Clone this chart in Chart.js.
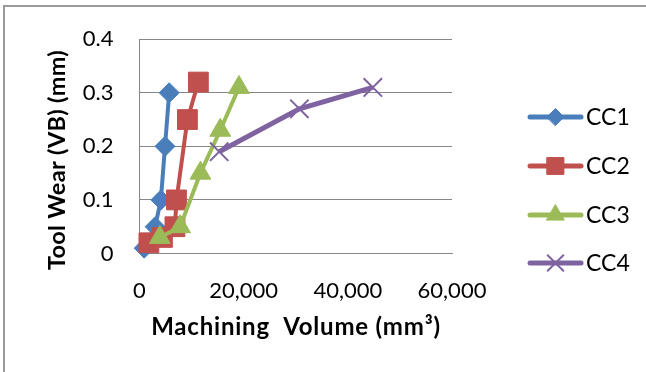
<!DOCTYPE html>
<html>
<head>
<meta charset="utf-8">
<script src="https://cdn.jsdelivr.net/npm/chart.js@4/dist/chart.umd.min.js"></script>
<style>
  html, body { margin: 0; padding: 0; background: #fff; }
  #wrap { position: relative; width: 646px; height: 372px; overflow: hidden; }
  #frame { position: absolute; left: 3px; top: 5px; width: 700px; height: 400px;
           border-left: 2px solid #9a9a9a; border-top: 2px solid #9a9a9a; box-sizing: border-box; }
  canvas { position: absolute; left: 0; top: 0; }
</style>
</head>
<body>
<div id="wrap">
  <div id="frame"></div>
  <canvas id="c" width="646" height="372"></canvas>
</div>
<script>
// ---- data ----
const seriesNames = ['CC1', 'CC2', 'CC3', 'CC4'];
const cc1X = [900, 3000, 4100, 4900, 5700];
const cc1Y = [0.01, 0.05, 0.10, 0.20, 0.30];
const cc2X = [1800, 4400, 6800, 7100, 9200, 11300];
const cc2Y = [0.02, 0.03, 0.05, 0.10, 0.25, 0.32];
const cc3X = [3900, 7800, 11700, 15500, 19100];
const cc3Y = [0.03, 0.05, 0.15, 0.23, 0.31];
const cc4X = [15300, 30700, 44800];
const cc4Y = [0.19, 0.27, 0.31];
const xTicks = [0, 20000, 40000, 60000];
const yTicks = [0, 0.1, 0.2, 0.3, 0.4];
const xTitle = 'Machining  Volume (mm\u00B3)';
const yTitle = 'Tool Wear (VB) (mm)';

function pts(xs, ys) { return xs.map((x, i) => ({ x: x, y: ys[i] })); }

const colors = ['#4A7EBB', '#C0504D', '#9BBB59', '#7F63A1'];
const styles = ['rectRot', 'rect', 'triangle', 'crossRot'];
const radii = [10, 14, 12, 13];
const lineW = [4, 4, 4, 5];
const allData = [pts(cc1X, cc1Y), pts(cc2X, cc2Y), pts(cc3X, cc3Y), pts(cc4X, cc4Y)];

const FONT = 'Lato';

const datasets = seriesNames.map((name, i) => ({
  label: name,
  data: allData[i],
  borderColor: colors[i],
  backgroundColor: colors[i],
  borderWidth: lineW[i],
  pointStyle: styles[i],
  pointRadius: radii[i],
  pointHoverRadius: radii[i],
  pointBorderWidth: i === 3 ? 2 : 1,
  pointBorderColor: colors[i],
  pointBackgroundColor: colors[i],
  tension: 0,
  showLine: true,
  clip: false,
  order: 4 - i
}));

const CA = { left: 139.5, right: 452, top: 34, bottom: 253.5 };

const customPlugin = {
  id: 'custom',
  afterDraw(chart) {
    const ctx = chart.ctx;
    ctx.save();
    // axis titles
    ctx.fillStyle = '#000';
    ctx.textAlign = 'center';
    ctx.textBaseline = 'middle';
    ctx.font = 'bold 24px ' + FONT;
    ctx.letterSpacing = '0.8px';
    ctx.fillText(xTitle, 296, 327);
    ctx.letterSpacing = '0.3px';
    ctx.font = 'bold 23.5px ' + FONT;
    ctx.translate(57, 160);
    ctx.rotate(-Math.PI / 2);
    ctx.fillText(yTitle, 0, 0);
    ctx.restore();

    // legend
    ctx.save();
    const rows = [117, 166, 215, 263];
    chart.data.datasets.forEach((ds, i) => {
      const y = rows[i];
      ctx.strokeStyle = ds.borderColor;
      ctx.lineWidth = 5;
      ctx.lineCap = 'round';
      ctx.beginPath();
      ctx.moveTo(530, y);
      ctx.lineTo(581, y);
      ctx.stroke();
      ctx.fillStyle = ds.backgroundColor;
      ctx.strokeStyle = ds.borderColor;
      ctx.lineWidth = i === 3 ? 2 : 1;
      Chart.helpers.drawPoint(ctx, { pointStyle: ds.pointStyle, radius: ds.pointRadius * 0.85, rotation: 0, borderWidth: ctx.lineWidth }, 555.5, y);
      ctx.fillStyle = '#000';
      ctx.font = '23px ' + FONT;
      ctx.textAlign = 'left';
      ctx.textBaseline = 'middle';
      ctx.fillText(ds.label, 586, y + 1);
    });
    ctx.restore();
  }
};

new Chart(document.getElementById('c'), {
  type: 'scatter',
  data: { datasets: datasets },
  options: {
    responsive: false,
    animation: false,
    devicePixelRatio: 1,
    layout: { padding: { left: 0, right: 646 - CA.right, top: CA.top, bottom: 0 } },
    plugins: { legend: { display: false }, tooltip: { enabled: false } },
    scales: {
      x: {
        type: 'linear',
        min: xTicks[0], max: xTicks[xTicks.length - 1],
        afterBuildTicks(s) { s.ticks = xTicks.map(v => ({ value: v })); },
        afterFit(s) { s.height = 372 - CA.bottom; },
        grid: { display: false, drawTicks: false },
        border: { display: true, color: '#868686', width: 1 },
        ticks: {
          padding: 24,
          color: '#000',
          font: { family: FONT, size: 22 },
          maxRotation: 0,
          callback: v => v.toLocaleString('en-US')
        }
      },
      y: {
        type: 'linear',
        min: yTicks[0], max: yTicks[yTicks.length - 1],
        afterBuildTicks(s) { s.ticks = yTicks.map(v => ({ value: v })); },
        afterFit(s) { s.width = CA.left; },
        grid: { color: '#868686', lineWidth: 1, drawTicks: false },
        border: { display: true, color: '#868686', width: 1 },
        ticks: {
          padding: 26,
          color: '#000',
          font: { family: FONT, size: 22 },
          callback: v => String(v)
        }
      }
    }
  },
  plugins: [customPlugin]
});
</script>
</body>
</html>
